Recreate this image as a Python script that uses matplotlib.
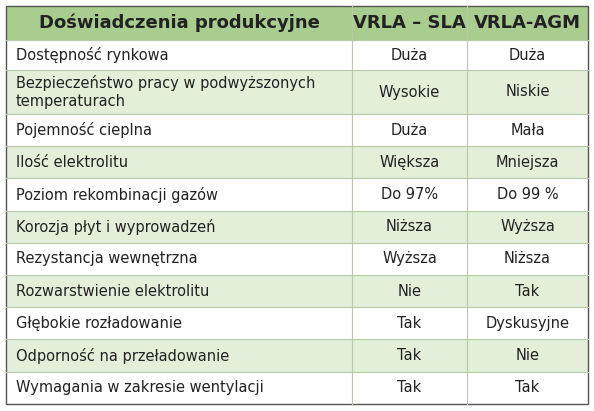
import matplotlib
matplotlib.use("Agg")
import matplotlib.pyplot as plt
from matplotlib.patches import Rectangle

headers = ["Doświadczenia produkcyjne", "VRLA – SLA", "VRLA-AGM"]
features = ["Dostępność rynkowa",
            "Bezpieczeństwo pracy w podwyższonych\ntemperaturach",
            "Pojemność cieplna", "Ilość elektrolitu", "Poziom rekombinacji gazów",
            "Korozja płyt i wyprowadzeń", "Rezystancja wewnętrzna",
            "Rozwarstwienie elektrolitu", "Głębokie rozładowanie",
            "Odporność na przeładowanie", "Wymagania w zakresie wentylacji"]
sla = ["Duża", "Wysokie", "Duża", "Większa", "Do 97%", "Niższa", "Wyższa",
       "Nie", "Tak", "Tak", "Tak"]
agm = ["Duża", "Niskie", "Mała", "Mniejsza", "Do 99 %", "Wyższa", "Niższa",
       "Tak", "Dyskusyjne", "Nie", "Tak"]

W, H = 594, 411
fig = plt.figure(figsize=(W/100, H/100), dpi=100)
ax = fig.add_axes([0, 0, 1, 1])
ax.set_xlim(0, W); ax.set_ylim(H, 0); ax.axis("off")

xs = [6, 352, 467, 588]
ys = [6, 40, 70, 114] + [114 + 32.2*(i+1) for i in range(9)]
green = "#a9cd8e"; light = "#e4efd9"
font = dict(family=["Liberation Sans Narrow", "DejaVu Sans"], color="#222222")

ax.add_patch(Rectangle((xs[0], ys[0]), xs[-1]-xs[0], ys[1]-ys[0], fc=green, ec="none"))
for j, h in enumerate(headers):
    ax.text((xs[j]+xs[j+1])/2, (ys[0]+ys[1])/2, h, ha="center", va="center",
            fontsize=13, fontweight="bold", **font)
for i in range(len(features)):
    y0, y1 = ys[i+1], ys[i+2]
    fc = "white" if i % 2 == 0 else light
    ax.add_patch(Rectangle((xs[0], y0), xs[-1]-xs[0], y1-y0, fc=fc, ec="none"))
    yc = (y0+y1)/2
    ax.text(xs[0]+10, yc, features[i], ha="left", va="center", fontsize=10.5,
            linespacing=1.3, **font)
    ax.text((xs[1]+xs[2])/2, yc, sla[i], ha="center", va="center", fontsize=10.5, **font)
    ax.text((xs[2]+xs[3])/2, yc, agm[i], ha="center", va="center", fontsize=10.5, **font)

lc = "#b8c9aa"
for y in ys[1:-1]:
    ax.plot([xs[0], xs[-1]], [y, y], color=lc, lw=0.8)
for x in xs[1:-1]:
    ax.plot([x, x], [ys[0], ys[-1]], color=lc, lw=0.8)
ax.add_patch(Rectangle((xs[0], ys[0]), xs[-1]-xs[0], ys[-1]-ys[0], fc="none", ec="#555555", lw=1))
fig.savefig("out.png", dpi=100, facecolor="white")
